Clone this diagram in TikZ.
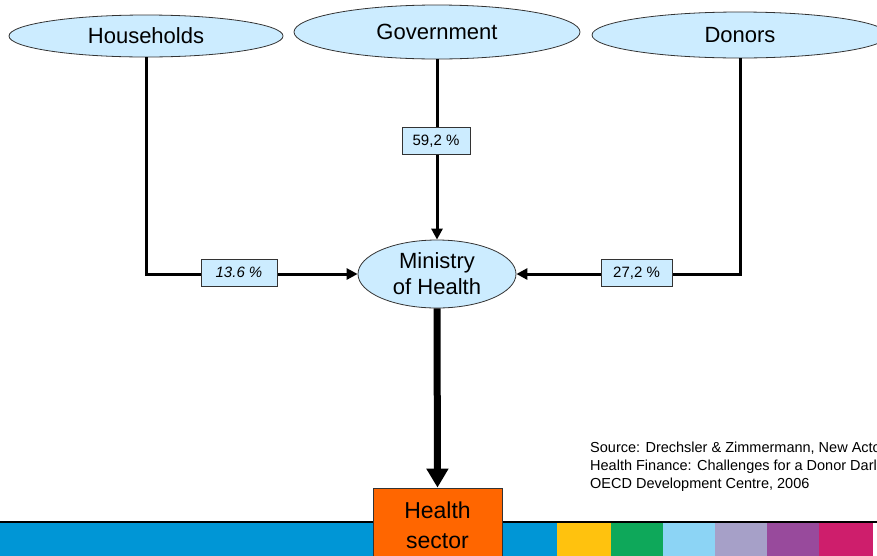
\documentclass[tikz,border=0pt]{standalone}
\usepackage{fontspec}
\setmainfont{Liberation Sans}
\usetikzlibrary{arrows.meta,shapes.geometric}
\definecolor{ellfill}{HTML}{CCECFF}
\definecolor{edgegray}{HTML}{333333}
\definecolor{hsorange}{HTML}{FF6600}
\definecolor{barblue}{HTML}{0096D6}
\definecolor{baryellow}{HTML}{FFC20E}
\definecolor{bargreen}{HTML}{0EA85A}
\definecolor{barlight}{HTML}{8CD4F5}
\definecolor{barlav}{HTML}{A6A0C8}
\definecolor{barpurple}{HTML}{984A9C}
\definecolor{barmag}{HTML}{CE1E6C}
\begin{document}
\begin{tikzpicture}[x=1pt,y=-1pt,
  actor/.style={ellipse, draw=edgegray, line width=0.8pt, fill=ellfill, inner sep=0pt,
    font=\fontsize{22}{26}\selectfont},
  pct/.style={rectangle, draw=edgegray, line width=0.8pt, fill=ellfill, inner sep=0pt,
    minimum height=27pt, font=\fontsize{15}{18}\selectfont},
  conn/.style={line width=3pt, -{Triangle[length=11pt,width=11pt]}},
  bigconn/.style={line width=7pt, -{Triangle[length=19pt,width=21pt]}},
  hsbox/.style={rectangle, draw=edgegray, line width=0.8pt, fill=hsorange, inner sep=0pt,
    minimum width=129pt, minimum height=74pt, align=center,
    font=\fontsize{23}{30}\selectfont},
  srctext/.style={inner sep=0pt, align=left, anchor=north west,
    font=\fontsize{14.5}{18}\selectfont}
]
\useasboundingbox (0,0) rectangle (877,555);
\clip (0,0) rectangle (877,555);

% bottom bar
\fill[barblue] (0,522) rectangle (505,556);
\fill[baryellow] (557,522) rectangle (611,556);
\fill[barblue] (505,522) rectangle (557,556);
\fill[bargreen] (611,522) rectangle (663,556);
\fill[barlight] (663,522) rectangle (715,556);
\fill[barlav] (715,522) rectangle (767,556);
\fill[barpurple] (767,522) rectangle (819,556);
\fill[barmag] (819,522) rectangle (873,556);
\draw[line width=2pt] (0,521.5) -- (877,521.5);

% actors
\node[actor, minimum width=274pt, minimum height=42pt] (hh) at (146,36) {Households};
\node[actor, minimum width=286pt, minimum height=54pt] (gov) at (437,32) {Government};
\node[actor, minimum width=296pt, minimum height=46pt] (don) at (740,35) {Donors};
\node[actor, minimum width=158pt, minimum height=68pt, align=center] (min) at (437,274) {Ministry\\of Health};
\node[hsbox] (hs) at (437.5,525) {Health\\sector};

% connectors
\draw[conn] (hh.south) |- (min.west);
\draw[conn] (gov.south) -- (min.north);
\draw[conn] (don.south) |- (min.east);
\draw[bigconn] (min.south) -- (hs.north);

% percentage labels
\node[pct, minimum width=76pt, font=\fontsize{15}{18}\selectfont\itshape] (p1) at (239,272.5) {13.6 \%};
\node[pct, minimum width=68pt] (p2) at (436,141) {59,2 \%};
\node[pct, minimum width=71pt] (p3) at (636.5,273) {27,2 \%};

% source
\node[srctext] (src) at (590,441.3) {Source: Drechsler \& Zimmermann, New Actors in\\Health Finance: Challenges for a Donor Darling\\OECD Development Centre, 2006};
\end{tikzpicture}
\end{document}
